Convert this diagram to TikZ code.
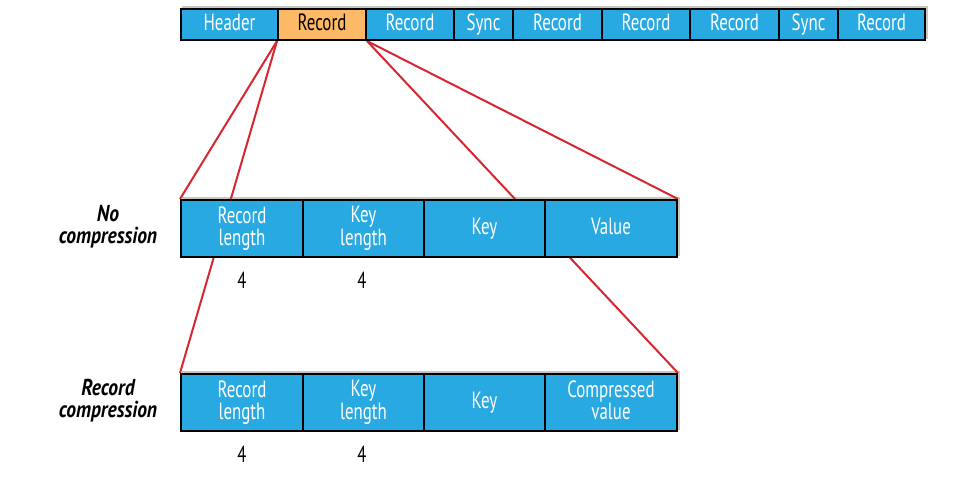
\documentclass[tikz,border=0pt]{standalone}
\usepackage{fontspec}
\setmainfont[FakeStretch=0.72]{PT Sans}
\newfontfamily\labelfont[FakeStretch=0.85]{PT Sans}
\usetikzlibrary{backgrounds}
\definecolor{cellblue}{HTML}{29A9E1}
\definecolor{cellorange}{HTML}{FDB966}
\definecolor{linkred}{HTML}{D7262F}
\tikzset{
  cell/.style={draw=black, line width=2pt, fill=cellblue, text=white, inner sep=0pt, anchor=north west, align=center, font=\fontsize{23.5}{22.5}\selectfont},
  oneline/.style={text height=16.5pt, text depth=4.5pt},
  hicell/.style={cell, fill=cellorange, text=black},
  link/.style={draw=linkred, line width=2pt},
  rowlabel/.style={align=center, font=\labelfont\fontsize{23}{22}\selectfont\bfseries\itshape},
  size/.style={font=\fontsize{23}{22}\selectfont}
}
\begin{document}
\begin{tikzpicture}[x=1pt, y=-1pt]
\useasboundingbox (0,0) rectangle (980,479);
% top bar
\node[cell, oneline, minimum width=97pt, minimum height=31pt] (h) at (180,8) {Header};
\node[hicell, oneline, minimum width=88pt, minimum height=31pt] (r1) at (277,8) {Record};
\node[cell, oneline, minimum width=88pt, minimum height=31pt] (r2) at (365,8) {Record};
\node[cell, oneline, minimum width=59pt, minimum height=31pt] (s1) at (453,8) {Sync};
\node[cell, oneline, minimum width=89pt, minimum height=31pt] (r3) at (512,8) {Record};
\node[cell, oneline, minimum width=88pt, minimum height=31pt] (r4) at (601,8) {Record};
\node[cell, oneline, minimum width=89pt, minimum height=31pt] (r5) at (689,8) {Record};
\node[cell, oneline, minimum width=59pt, minimum height=31pt] (s2) at (778,8) {Sync};
\node[cell, oneline, minimum width=87pt, minimum height=31pt] (r6) at (837,8) {Record};
% middle row
\node[cell, minimum width=122pt, minimum height=57pt] (m1) at (180,199) {Record\\length};
\node[cell, minimum width=121pt, minimum height=57pt] (m2) at (302,199) {Key\\length};
\node[cell, oneline, minimum width=121pt, minimum height=57pt] (m3) at (423,199) {Key};
\node[cell, oneline, minimum width=132pt, minimum height=57pt] (m4) at (544,199) {Value};
% bottom row
\node[cell, minimum width=122pt, minimum height=57pt] (b1) at (180,373) {Record\\length};
\node[cell, minimum width=121pt, minimum height=57pt] (b2) at (302,373) {Key\\length};
\node[cell, oneline, minimum width=121pt, minimum height=57pt] (b3) at (423,373) {Key};
\node[cell, minimum width=132pt, minimum height=57pt] (b4) at (544,373) {Compressed\\value\vphantom{g}};
% labels
\node[rowlabel] (lm) at (108,227) {No\\compression};
\node[rowlabel] (lb) at (108,401) {Record\\compression};
\node[size] (n1) at (242,280) {4};
\node[size] (n2) at (362,280) {4};
\node[size] (n3) at (242,454) {4};
\node[size] (n4) at (362,454) {4};
% links
\begin{pgfonlayer}{background}
\fill[gray!45] ([shift={(2pt,2pt)}]h.north west) rectangle ([shift={(2pt,2pt)}]r6.south east);
\fill[gray!45] ([shift={(2pt,2pt)}]m1.north west) rectangle ([shift={(2pt,2pt)}]m4.south east);
\fill[gray!45] ([shift={(2pt,2pt)}]b1.north west) rectangle ([shift={(2pt,2pt)}]b4.south east);
\draw[link] (r1.south west) -- (m1.north west);
\draw[link] (r1.south west) -- (b1.north west);
\draw[link] (r1.south east) -- (m4.north east);
\draw[link] (r1.south east) -- (b4.north east);
\end{pgfonlayer}
\end{tikzpicture}
\end{document}
